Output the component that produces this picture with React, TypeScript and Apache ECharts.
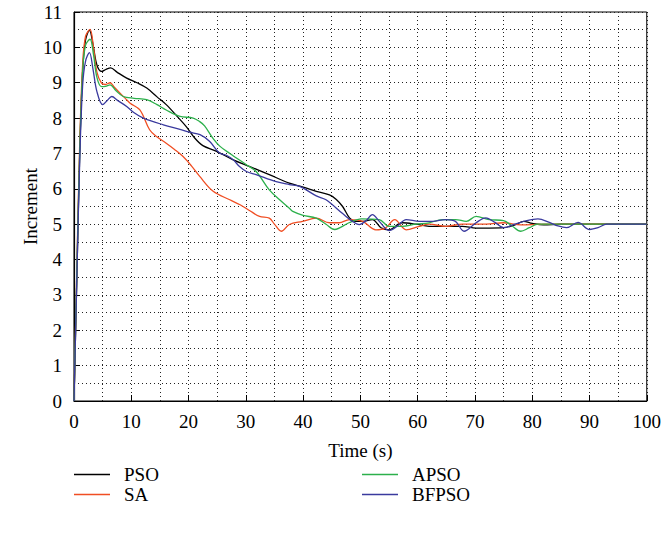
import React, { useEffect, useRef } from "react";
import * as echarts from "echarts";

const seriesNames = ["PSO", "SA", "APSO", "BFPSO"];
const xTicks = [0, 10, 20, 30, 40, 50, 60, 70, 80, 90, 100];
const yTicks = [0, 1, 2, 3, 4, 5, 6, 7, 8, 9, 10, 11];

const pso: [number, number][] = [
  [0, 0], [0.5, 3.5], [1, 7], [1.5, 9.3], [2, 10.2], [2.7, 10.48], [3.3, 10.1], [4, 9.5],
  [4.8, 9.32], [5.6, 9.38], [6.4, 9.42], [7.5, 9.3], [9.2, 9.13], [11, 9.0], [12.7, 8.85],
  [14.5, 8.6], [16.1, 8.38], [18, 8.05], [19.6, 7.76], [21, 7.45], [22.5, 7.22], [24.9, 7.06],
  [27.8, 6.82], [30.7, 6.63], [34.1, 6.4], [37.6, 6.16], [40, 6.05], [42.3, 5.93], [44.6, 5.83],
  [45.8, 5.7], [46.9, 5.5], [48.1, 5.18], [49.2, 5.08], [50.4, 5.08], [52.1, 5.13], [53.6, 4.9],
  [55, 4.84], [57.3, 5.04], [59.7, 5.0], [62, 4.94], [64.9, 4.94], [67.8, 4.94], [70.2, 4.89],
  [72.5, 4.89], [75, 4.9], [77, 4.98], [78.5, 5.08], [80, 5.02], [82, 4.98], [85, 5.0],
  [90, 5.0], [100, 5.0],
];

const sa: [number, number][] = [
  [0, 0], [0.5, 3.8], [1, 7.3], [1.5, 9.5], [2, 10.3], [2.8, 10.51], [3.4, 10.0], [4, 9.3],
  [4.8, 8.99], [5.5, 8.95], [6.3, 9.0], [7, 8.88], [8, 8.71], [9, 8.55], [9.8, 8.42],
  [11.5, 8.23], [13.2, 7.67], [14.4, 7.48], [16.1, 7.29], [17.5, 7.12], [19, 6.92],
  [20.5, 6.65], [21.95, 6.35], [24.3, 5.93], [27.2, 5.69], [29, 5.55], [30.7, 5.38],
  [32.4, 5.22], [34.1, 5.17], [35, 5.0], [36.2, 4.8], [37.6, 4.99], [39.9, 5.08], [42.3, 5.17],
  [44.6, 5.04], [46.3, 5.04], [48.1, 5.13], [50.4, 5.08], [52.7, 4.84], [54.3, 4.88],
  [56, 5.13], [58, 4.84], [60.3, 4.94], [62, 5.0], [64.9, 4.94], [67.8, 5.0], [72, 5.0],
  [75, 5.04], [78, 4.98], [82, 5.0], [100, 5.0],
];

const apso: [number, number][] = [
  [0, 0], [0.5, 3.7], [1, 7.1], [1.5, 9.3], [2, 10.05], [2.8, 10.23], [3.4, 9.8], [4, 9.15],
  [4.8, 8.89], [5.5, 8.9], [6.3, 8.94], [7.3, 8.78], [8.6, 8.61], [10.5, 8.56], [12.7, 8.52],
  [14.5, 8.38], [16.1, 8.23], [18.5, 8.05], [20.8, 8.0], [21.95, 7.9], [22.8, 7.78],
  [24.3, 7.42], [25.5, 7.2], [27.2, 7.0], [30.1, 6.68], [31.8, 6.49], [34.1, 5.97],
  [35.9, 5.69], [37.6, 5.45], [38.2, 5.36], [40, 5.25], [42.3, 5.17], [44, 5.0], [45.5, 4.85],
  [48, 5.04], [50.2, 5.15], [53.3, 5.13], [55, 4.94], [57.3, 4.94], [59.7, 5.0], [62, 5.04],
  [64.3, 5.13], [66.6, 5.13], [68.5, 5.08], [70.2, 5.22], [72.5, 5.13], [75, 5.1],
  [76.5, 4.95], [78, 4.8], [79.5, 4.9], [81, 5.0], [85, 5.0], [100, 5.0],
];

const bfpso: [number, number][] = [
  [0, 0], [0.5, 3.5], [1, 6.8], [1.5, 8.9], [2, 9.6], [2.7, 9.85], [3.3, 9.4], [4, 8.75],
  [5, 8.38], [5.8, 8.5], [6.6, 8.61], [7.6, 8.5], [9.2, 8.33], [10.5, 8.15], [12.1, 8.0],
  [15.6, 7.81], [18.5, 7.68], [20.2, 7.6], [22, 7.53], [23.7, 7.34], [25.4, 7.01],
  [26.6, 6.95], [27.8, 6.82], [28.9, 6.63], [30.1, 6.49], [31.8, 6.4], [35.3, 6.2],
  [37.6, 6.12], [39.4, 6.07], [42.3, 5.8], [44, 5.69], [46.9, 5.3], [48.6, 5.08],
  [49.8, 4.99], [51, 5.1], [52.1, 5.27], [53.3, 5.08], [55, 4.82], [56.5, 4.95], [58, 5.13],
  [60.3, 5.08], [62.6, 5.08], [64.9, 5.13], [66.6, 5.08], [68.1, 4.8], [70.2, 5.04],
  [71.9, 5.18], [73.5, 5.05], [75, 4.9], [77, 5.0], [79, 5.1], [81, 5.15], [83, 5.05],
  [84.5, 4.95], [86, 4.9], [88, 5.05], [90, 4.85], [91.5, 4.9], [93, 5.0], [95, 5.0],
  [100, 5.0],
];

const colors = ["#000000", "#f04e23", "#2cb04b", "#3a3a9e"];
const allData = [pso, sa, apso, bfpso];

const FONT = "Liberation Serif";
const FS = 19;

export default function App() {
  const ref = useRef<HTMLDivElement>(null);
  useEffect(() => {
    if (!ref.current) return;
    const chart = echarts.init(ref.current, undefined, { renderer: "svg" });
    const dotted = { color: "#222", width: 1, type: [1, 3] as number[] };
    const legendText = { fontFamily: FONT, fontSize: FS, color: "#000", lineHeight: 18, padding: [0, 0, 0, 9] };
    chart.setOption({
      animation: false,
      backgroundColor: "#fff",
      textStyle: { fontFamily: FONT },
      grid: {
        left: 74, right: 16, top: 12, bottom: 134,
        show: true, borderColor: "#000", borderWidth: 1,
      },
      legend: [
        {
          data: seriesNames.slice(0, 2), orient: "vertical", left: 74, top: 465,
          icon: "rect", itemWidth: 36, itemHeight: 1.3, itemGap: 1, padding: 0,
          textStyle: legendText,
        },
        {
          data: seriesNames.slice(2), orient: "vertical", left: 362, top: 465,
          icon: "rect", itemWidth: 36, itemHeight: 1.3, itemGap: 1, padding: 0,
          textStyle: legendText,
        },
      ],
      xAxis: {
        type: "value", min: xTicks[0], max: xTicks[xTicks.length - 1], interval: 10,
        name: "Time (s)", nameLocation: "middle", nameGap: 40,
        nameTextStyle: { fontFamily: FONT, fontSize: FS, color: "#000" },
        axisLine: { lineStyle: { color: "#000", width: 1.2 } },
        axisTick: { inside: true, length: 6, lineStyle: { color: "#000" } },
        axisLabel: { fontFamily: FONT, fontSize: FS, color: "#000", margin: 11 },
        splitLine: { show: true, lineStyle: dotted },
        minorTick: { show: false, splitNumber: 2 },
        minorSplitLine: { show: true, lineStyle: dotted },
      },
      yAxis: {
        type: "value", min: yTicks[0], max: yTicks[yTicks.length - 1], interval: 1,
        name: "Increment", nameLocation: "middle", nameGap: 34, nameRotate: 90,
        nameMoveOverlap: false,
        nameTextStyle: { fontFamily: FONT, fontSize: FS, color: "#000" },
        axisLine: { lineStyle: { color: "#000", width: 1.2 } },
        axisTick: { inside: true, length: 6, lineStyle: { color: "#000" } },
        axisLabel: { fontFamily: FONT, fontSize: FS, color: "#000", margin: 12 },
        splitLine: { show: true, lineStyle: dotted },
        minorTick: { show: false, splitNumber: 2 },
        minorSplitLine: { show: true, lineStyle: dotted },
      },
      series: seriesNames.map((n, i) => ({
        name: n, type: "line", data: allData[i], showSymbol: false, symbol: "none",
        smooth: 0.35, color: colors[i],
        lineStyle: { color: colors[i], width: 1.3 },
      })),
    });
    return () => chart.dispose();
  }, []);
  return <div ref={ref} style={{ width: 664, height: 535, position: "absolute", left: 0, top: 0 }} />;
}
